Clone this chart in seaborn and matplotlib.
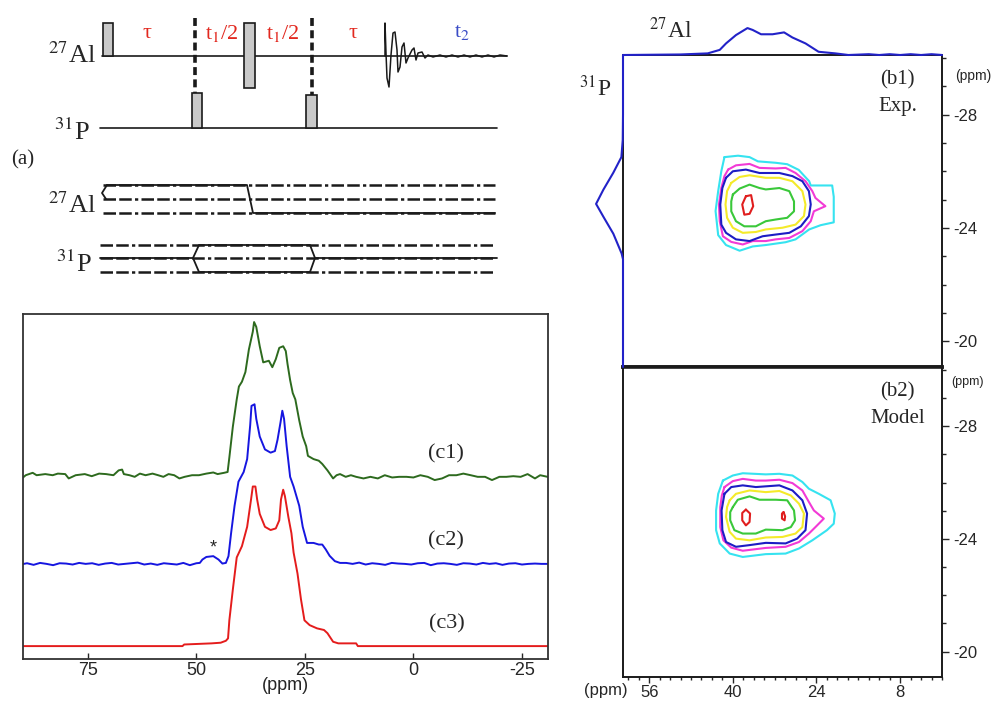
import numpy as np
import pandas as pd
import seaborn as sns
import matplotlib.pyplot as plt
from matplotlib.patches import Rectangle
from matplotlib.ticker import MultipleLocator, FixedLocator

# ---------------- 1D 31P{27Al} spectra (c1 exp, c2, c3), ppm / relative intensity
c1_ppm = [90.5, 89.3, 87.7, 86.8, 84.8, 83.1, 81.9, 80.2, 79.4, 77.8, 75.7, 74.1, 72.4, 70.8, 69.1,
          67.9, 67.1, 66.7, 65.4, 64.2, 63.0, 61.7, 60.1, 58.8, 57.6, 56.4, 55.1, 53.9, 52.7, 51.0,
          49.4, 47.7, 46.1, 45.1, 43.6, 42.8, 42.4, 41.6, 40.7, 40.2, 39.5, 38.7, 37.9, 37.0, 36.7,
          36.2, 35.4, 34.6, 33.3, 32.5, 31.7, 30.9, 30.0, 29.4, 29.0, 28.4, 27.8, 27.2, 26.3, 25.5,
          24.7, 24.3, 23.0, 21.8, 21.0, 19.8, 18.5, 17.7, 16.9, 15.6, 14.4, 13.2, 11.5, 9.9, 8.2,
          6.6, 4.9, 3.3, 1.6, 0.0, -1.6, -3.3, -4.9, -6.6, -8.2, -9.9, -11.5, -13.2, -14.8, -16.5,
          -18.1, -19.8, -21.4, -23.0, -24.7, -26.3, -28.0, -29.2, -30.9]
c1_int = [-0.017, 0.01, 0.025, 0.01, 0.017, 0.01, 0.02, 0.017, -0.01, 0.01, 0.017, 0.004, 0.02, 0.017, 0.01,
          0.04, 0.045, 0.017, 0.01, 0.0, 0.02, 0.01, 0.02, 0.01, 0.0, 0.017, 0.01, -0.01, 0.0, 0.01,
          0.01, 0.02, 0.027, 0.017, 0.025, 0.03, 0.12, 0.31, 0.48, 0.56, 0.59, 0.65, 0.79, 0.90, 0.96,
          0.93, 0.81, 0.71, 0.72, 0.68, 0.73, 0.80, 0.81, 0.78, 0.70, 0.60, 0.52, 0.48, 0.35, 0.25,
          0.19, 0.13, 0.11, 0.10, 0.08, 0.04, -0.01, 0.01, 0.017, 0.0, 0.01, 0.0, -0.01, 0.0, -0.01,
          0.01, -0.004, 0.0, 0.0, -0.004, 0.01, 0.0, -0.02, -0.01, 0.01, 0.01, 0.02, 0.01, 0.0, 0.0,
          -0.02, 0.0, 0.0, 0.004, 0.0, 0.017, -0.01, 0.01, 0.0]

c2_ppm = [90.5, 89.0, 87.5, 86.0, 84.5, 83.0, 81.5, 80.0, 78.5, 77.0, 75.5, 74.0, 72.5, 71.0, 69.5,
          68.0, 66.5, 65.0, 63.5, 62.0, 60.5, 59.0, 57.5, 56.0, 54.5, 53.0, 51.5, 50.0, 49.2, 48.6,
          47.7, 46.1, 44.9, 44.0, 43.2, 42.6, 42.0, 41.2, 40.3, 39.1, 38.3, 37.6, 37.3, 36.6, 36.2,
          35.4, 34.2, 32.9, 31.9, 31.3, 30.6, 30.2, 29.8, 29.2, 28.4, 27.6, 26.3, 25.5, 24.5, 23.0,
          21.8, 21.0, 20.2, 19.3, 18.1, 16.9, 15.5, 14.0, 12.5, 11.0, 9.5, 8.0, 6.5, 5.0, 3.5,
          2.0, 0.5, -1.0, -2.5, -4.0, -5.5, -7.0, -8.5, -10.0, -11.5, -13.0, -14.5, -16.0, -17.5, -19.0,
          -20.5, -22.0, -23.5, -25.0, -26.5, -28.0, -29.5, -31.0]
c2_int = [-0.004, 0.004, -0.006, 0.006, 0.0, -0.008, 0.004, 0.002, -0.004, 0.006, 0.0, 0.004, -0.006, 0.002, 0.006,
          -0.004, 0.0, 0.004, 0.008, -0.004, 0.002, -0.006, 0.004, 0.0, -0.004, 0.006, -0.008, 0.004, 0.006, 0.027,
          0.043, 0.048, 0.027, 0.002, 0.006, 0.048, 0.19, 0.36, 0.51, 0.57, 0.65, 0.86, 0.98, 0.99, 0.90,
          0.79, 0.71, 0.69, 0.70, 0.77, 0.88, 0.95, 0.90, 0.73, 0.54, 0.48, 0.36, 0.23, 0.13, 0.13,
          0.12, 0.12, 0.09, 0.05, 0.017, 0.006, 0.006, 0.0, 0.008, -0.004, 0.004, 0.0, -0.006, 0.006, 0.002,
          0.0, -0.004, 0.004, 0.006, -0.008, 0.002, 0.004, 0.0, -0.006, 0.004, 0.002, -0.004, 0.006, 0.0, 0.004,
          -0.006, 0.002, 0.004, -0.004, 0.0, 0.002, 0.0, 0.0]

c3_ppm = [90.5, 53.2, 52.8, 46.5, 44.4, 43.2, 42.7, 42.4, 41.6, 40.7, 39.5, 38.3, 37.4, 37.0, 36.4,
          36.0, 35.4, 34.2, 32.9, 31.7, 30.9, 30.5, 30.0, 29.6, 28.8, 28.1, 27.6, 26.7, 25.9, 25.1,
          23.9, 22.2, 20.6, 19.8, 18.5, 17.3, 13.2, 12.8, -31.0]
c3_int = [0.0, 0.0, 0.01, 0.017, 0.021, 0.033, 0.048, 0.16, 0.35, 0.55, 0.62, 0.74, 0.91, 0.99, 0.99,
          0.91, 0.82, 0.74, 0.72, 0.73, 0.78, 0.91, 0.97, 0.93, 0.80, 0.70, 0.58, 0.45, 0.29, 0.16,
          0.13, 0.11, 0.10, 0.08, 0.027, 0.017, 0.017, 0.0, 0.0]

spectrum_names = ['(c1)', '(c2)', '(c3)']
spectrum_offsets = [1.13, 0.59, 0.08]
spectrum_colors = ['#2d6a1e', '#1616e0', '#e41c1c']

# ---------------- 2D HMQC projections
al_proj_ppm = [61, 50, 44.8, 42.5, 41.3, 39.4, 37.2, 36.2, 34.6, 32.4, 30.2, 28.6, 26.1, 23.6,
               20.4, 17.9, 14, 12, 10, 8, 6, 4, 2, 0]
al_proj_int = [0.0, 0.02, 0.06, 0.19, 0.43, 0.74, 1.0, 0.93, 0.77, 0.77, 0.84, 0.65, 0.43, 0.12,
               0.06, 0.0, 0.03, 0.0, 0.03, 0.0, 0.03, 0.0, 0.03, 0.0]
p_proj_ppm = [-30.1, -28.0, -27.1, -26.5, -25.95, -25.35, -24.85, -24.4, -23.8, -23.1, -22.9, -21.0, -19.1]
p_proj_int = [0.0, 0.0, 0.01, 0.06, 0.36, 0.73, 1.0, 0.73, 0.36, 0.05, 0.0, 0.0, 0.0]

# ---------------- contour lines (27Al ppm, 31P ppm)
b1_cyan = [(41.6, -26.5), (39.0, -26.55), (36.8, -26.5), (35.2, -26.35), (31.8, -26.3), (29.6, -26.25),
           (27.4, -26.05), (25.4, -25.65), (25.1, -25.5), (21.0, -25.5), (20.7, -25.1), (20.7, -24.2),
           (23.2, -24.1), (25.4, -23.95), (28.0, -23.6), (29.9, -23.5), (33.7, -23.4), (36.2, -23.35),
           (38.7, -23.2), (41.3, -23.4), (42.8, -23.75), (43.3, -24.6), (42.8, -25.3), (42.2, -26.0)]
b1_magenta = [(40.9, -26.06), (39.4, -26.21), (36.8, -26.26), (34.9, -26.12), (31.8, -26.1), (29.9, -26.12),
              (28.0, -25.94), (26.1, -25.65), (24.8, -25.3), (24.2, -25.06), (22.3, -24.77), (24.5, -24.59),
              (25.1, -24.24), (26.7, -23.89), (29.2, -23.65), (31.8, -23.6), (33.7, -23.54), (36.2, -23.54),
              (38.1, -23.42), (40.3, -23.51), (41.9, -23.71), (42.5, -24.24), (42.65, -24.83), (42.2, -25.41),
              (41.6, -25.83)]
b1_blue = [(41.3, -25.77), (40.0, -26.0), (37.5, -26.06), (34.9, -25.94), (31.1, -25.94), (28.6, -25.83),
           (26.7, -25.65), (25.45, -25.3), (25.1, -24.83), (25.45, -24.42), (27.0, -24.06), (29.2, -23.83),
           (31.8, -23.77), (34.3, -23.71), (36.8, -23.54), (39.4, -23.6), (41.3, -23.83), (42.2, -24.12),
           (42.4, -24.83), (42.0, -25.41)]
b1_yellow = [(40.3, -25.59), (38.7, -25.8), (36.8, -25.86), (33.7, -25.77), (31.1, -25.77), (28.6, -25.65),
             (26.7, -25.3), (26.1, -24.83), (26.4, -24.42), (28.0, -24.12), (30.5, -24.01), (33.7, -23.95),
             (35.6, -23.86), (38.1, -23.83), (40.0, -24.01), (41.1, -24.36), (41.4, -24.83), (41.1, -25.3)]
b1_green = [(40.0, -25.18), (38.7, -25.39), (36.8, -25.53), (34.9, -25.41), (33.7, -25.36), (31.1, -25.41),
            (29.2, -25.3), (28.3, -24.94), (28.3, -24.59), (29.6, -24.36), (31.8, -24.30), (33.7, -24.24),
            (35.6, -24.06), (37.8, -24.06), (39.4, -24.24), (40.3, -24.59), (40.3, -24.94)]
b1_red = [(37.5, -25.12), (36.5, -25.16), (36.1, -24.77), (36.8, -24.50), (37.8, -24.47), (38.2, -24.83)]

b2_cyan = [(41.9, -26.07), (40.0, -26.25), (38.1, -26.33), (33.7, -26.29), (31.1, -26.31), (28.6, -26.25),
           (26.7, -26.02), (25.45, -25.78), (23.55, -25.6), (21.3, -25.37), (20.5, -24.9), (20.7, -24.54),
           (22.0, -24.31), (24.8, -23.95), (27.35, -23.66), (29.9, -23.48), (33.7, -23.46), (38.1, -23.36),
           (40.6, -23.48), (42.5, -23.84), (43.2, -24.31), (43.2, -25.01), (42.8, -25.6)]
b2_magenta = [(41.6, -25.84), (40.0, -26.05), (38.1, -26.13), (35.6, -26.07), (33.7, -26.07), (31.1, -26.1),
              (28.6, -25.98), (26.7, -25.72), (25.45, -25.31), (24.5, -25.01), (22.6, -24.72), (24.2, -24.42),
              (25.45, -24.19), (27.35, -23.89), (29.9, -23.72), (33.7, -23.68), (38.1, -23.58), (40.3, -23.69),
              (41.8, -23.95), (42.4, -24.42), (42.4, -25.13), (42.1, -25.54)]
b2_blue = [(41.6, -25.6), (40.3, -25.84), (38.1, -25.9), (35.6, -25.84), (31.1, -25.9), (28.6, -25.72),
           (26.7, -25.37), (25.8, -24.9), (26.1, -24.31), (27.7, -24.01), (29.9, -23.84), (33.7, -23.86),
           (36.8, -23.78), (39.4, -23.72), (41.3, -23.89), (42.0, -24.31), (42.15, -25.01)]
b2_yellow = [(40.6, -25.37), (39.4, -25.6), (36.8, -25.72), (33.7, -25.66), (31.1, -25.7), (28.9, -25.54),
             (27.35, -25.25), (26.4, -24.9), (26.7, -24.42), (28.0, -24.19), (30.5, -24.07), (33.7, -24.05),
             (36.8, -23.95), (39.4, -24.01), (40.6, -24.25), (41.3, -24.78), (41.1, -25.13)]
b2_green = [(40.0, -25.13), (39.05, -25.39), (36.8, -25.51), (34.9, -25.39), (31.8, -25.39), (29.6, -25.37),
            (28.3, -25.01), (28.1, -24.66), (28.9, -24.42), (30.5, -24.31), (33.7, -24.33), (35.6, -24.19),
            (38.1, -24.19), (39.7, -24.31), (40.5, -24.66), (40.5, -24.95)]
b2_red_a = [(37.5, -25.04), (36.7, -24.9), (36.8, -24.6), (37.5, -24.48), (38.2, -24.66), (38.2, -24.92)]
b2_red_b = [(30.3, -24.95), (30.0, -24.8), (30.1, -24.66), (30.6, -24.72), (30.6, -24.9)]

contour_colors = {'cyan': '#36e3f0', 'magenta': '#f23ad6', 'blue': '#1c1cc4',
                  'yellow': '#f4ea2a', 'green': '#3ac83a', 'red': '#e01e1e'}

# ---------------- pulse sequence schematic (time units of the drawing)
al_pulse_t = [103, 244]
al_pulse_w = [10, 11]
al_pulse_up = [33, 33]
al_pulse_down = [0, 32]
p_pulse_t = [192, 306]
p_pulse_w = [10, 11]
p_pulse_h = [35, 33]
delay_marks_t = [195, 312]
delay_labels = ['τ', r't$_1$/2', r't$_1$/2', 'τ', r't$_2$']
delay_label_t = [147, 222, 283, 353, 462]
fid_t = [385, 385, 386, 387, 389, 391, 393, 395, 397, 398, 400, 402, 404, 406, 408, 412, 414, 416, 418,
         422, 425, 428, 433, 440, 446, 452, 458, 464, 470, 476, 482, 488, 494, 500, 507]
fid_amp = [0, 33, 3, -22, -31, 1, 23, 24, 6, -16, -11, 9, 13, -7, -2, 6, 8, -4, 3, 4, -2, 1, -1, 1,
           -1, 1, -1, 1, -1, 1, -1, 1, -1, 1, 0]

W, H = 999, 701
sns.set_theme(style='white')
plt.rcParams['font.family'] = ['Liberation Sans', 'DejaVu Sans']
plt.rcParams['mathtext.fontset'] = 'stix'
plt.rcParams['axes.unicode_minus'] = False
SERIF = ['Liberation Serif', 'DejaVu Serif']

fig = plt.figure(figsize=(W / 100, H / 100), dpi=100)


def px_axes(x0, y0, x1, y1):
    return fig.add_axes([x0 / W, 1 - y1 / H, (x1 - x0) / W, (y1 - y0) / H])


# ================= (a) pulse sequence
ax_a = px_axes(0, 0, 560, 300)
ax_a.set_xlim(0, 560)
ax_a.set_ylim(300, 0)
ax_a.axis('off')
al_y, p_y = 56, 128
ax_a.plot([102, 507], [al_y, al_y], color='k', lw=1.2)
ax_a.plot([100, 497], [p_y, p_y], color='k', lw=1.2)
for t, w, up, dn in zip(al_pulse_t, al_pulse_w, al_pulse_up, al_pulse_down):
    ax_a.add_patch(Rectangle((t, al_y - up), w, up + dn, facecolor='#c9c9c9', edgecolor='k', lw=1.2, zorder=3))
for t, w, h in zip(p_pulse_t, p_pulse_w, p_pulse_h):
    ax_a.add_patch(Rectangle((t, p_y - h), w, h, facecolor='#c9c9c9', edgecolor='k', lw=1.2, zorder=3))
for t, h in zip(delay_marks_t, p_pulse_h):
    ax_a.plot([t, t], [18, p_y - h], color='k', lw=2.6, ls=(0, (2.2, 1.2)))
ax_a.plot(fid_t, al_y - np.array(fid_amp), color='k', lw=1.1, zorder=4)
for lab, t in zip(delay_labels, delay_label_t):
    col = '#3a4cc6' if 't$_2' in lab else '#e2281f'
    ax_a.text(t, 33, lab, color=col, fontsize=16, family=SERIF, ha='center', va='center')
ax_a.text(96, 63, r'$^{27}$Al', fontsize=19, family=SERIF, ha='right', va='baseline')
ax_a.text(90, 140, r'$^{31}$P', fontsize=19, family=SERIF, ha='right', va='baseline')

# coherence transfer pathways
dd = (0, (5, 1.3, 5, 1.3, 1.3, 1.3))
al_lv = [185, 199, 213]
p_lv = [245, 258, 272]
for lv in al_lv:
    ax_a.plot([103, 495], [lv, lv], color='k', lw=1.8, ls=dd)
for lv in p_lv:
    ax_a.plot([100, 495], [lv, lv], color='k', lw=1.8, ls=dd)
ax_a.plot([107, 247, 253, 495], [al_lv[0], al_lv[0], al_lv[2], al_lv[2]], color='k', lw=1.3)
ax_a.plot([107, 102, 106], [al_lv[0], al_lv[1] - 6, al_lv[1]], color='k', lw=1.3)
ax_a.plot([100, 193, 199, 310, 315, 497], [p_lv[1], p_lv[1], p_lv[0], p_lv[0], p_lv[1], p_lv[1]], color='k', lw=1.3)
ax_a.plot([193, 199, 310, 315], [p_lv[1], p_lv[2], p_lv[2], p_lv[1]], color='k', lw=1.3)
ax_a.text(96, 213, r'$^{27}$Al', fontsize=19, family=SERIF, ha='right', va='baseline')
ax_a.text(92, 272, r'$^{31}$P', fontsize=19, family=SERIF, ha='right', va='baseline')
ax_a.text(23, 160, '(a)', fontsize=15, family=SERIF, ha='center', va='center')

# ================= (c) 1D spectra
ax_c = px_axes(22.7, 314, 548, 659)
for ppm, inten, off, col in zip([c1_ppm, c2_ppm, c3_ppm], [c1_int, c2_int, c3_int],
                                spectrum_offsets, spectrum_colors):
    df = pd.DataFrame({'ppm': ppm, 'y': np.array(inten) + off})
    sns.lineplot(data=df, x='ppm', y='y', sort=False, estimator=None, color=col, lw=1.4, ax=ax_c)
for name, off in zip(spectrum_names, spectrum_offsets):
    ax_c.text(-7.6, off + 0.14, name, fontsize=16, family=SERIF, ha='center', va='center')
ax_c.text(46.1, spectrum_offsets[1] + 0.1, '*', fontsize=13, ha='center', va='center')
ax_c.set_xlim(90, -31)
ax_c.set_ylim(0, 2.14)
ax_c.set_yticks([])
ax_c.set_xticks([75, 50, 25, 0, -25])
ax_c.tick_params(axis='x', bottom=True, direction='in', length=4, width=1, labelsize=13, pad=2)
ax_c.set_xlabel('(ppm)', fontsize=13, labelpad=-1)
ax_c.set_ylabel('')
for s in ax_c.spines.values():
    s.set_color('#333333')
    s.set_linewidth(1.3)

# ================= (b1)/(b2) 2D maps
b1_sets = {'cyan': [b1_cyan], 'magenta': [b1_magenta], 'blue': [b1_blue],
           'yellow': [b1_yellow], 'green': [b1_green], 'red': [b1_red]}
b2_sets = {'cyan': [b2_cyan], 'magenta': [b2_magenta], 'blue': [b2_blue],
           'yellow': [b2_yellow], 'green': [b2_green], 'red': [b2_red_a, b2_red_b]}

ax_b1 = px_axes(623, 55, 942, 367)
ax_b2 = px_axes(623, 367, 942, 677)
for ax, sets in ((ax_b1, b1_sets), (ax_b2, b2_sets)):
    rows = []
    piece = 0
    for lev, polys in sets.items():
        for poly in polys:
            for x, y in poly + [poly[0]]:
                rows.append({'x': x, 'y': y, 'level': lev, 'piece': piece})
            piece += 1
    cdf = pd.DataFrame(rows)
    sns.lineplot(data=cdf, x='x', y='y', hue='level', units='piece', estimator=None, sort=False,
                 palette=contour_colors, legend=False, lw=1.5, ax=ax)
    ax.set_xlim(61, 0)
    ax.set_ylim(-19.1, -30.1)
    ax.set_xlabel('')
    ax.set_ylabel('')
    ax.yaxis.tick_right()
    ax.yaxis.set_major_locator(FixedLocator([-28, -24, -20]))
    ax.yaxis.set_minor_locator(MultipleLocator(1))
    ax.tick_params(axis='y', which='major', right=True, direction='out', length=5, width=1, labelsize=12, pad=3)
    ax.tick_params(axis='y', which='minor', right=True, direction='out', length=3, width=1)
    for s in ax.spines.values():
        s.set_color('k')
        s.set_linewidth(1.4)

ax_b1.set_xticks([])
ax_b1.spines['bottom'].set_linewidth(2.6)
ax_b2.spines['top'].set_linewidth(2.6)
ax_b2.xaxis.set_major_locator(FixedLocator([56, 40, 24, 8]))
ax_b2.xaxis.set_minor_locator(MultipleLocator(2))
ax_b2.tick_params(axis='x', which='major', bottom=True, direction='out', length=4, width=1, labelsize=12, pad=2)
ax_b2.tick_params(axis='x', which='minor', bottom=True, direction='out', length=2.5, width=1)

ax_b1.text(0.86, 0.92, '(b1)', transform=ax_b1.transAxes, fontsize=15, family=SERIF, ha='center', va='center')
ax_b1.text(0.86, 0.835, 'Exp.', transform=ax_b1.transAxes, fontsize=15, family=SERIF, ha='center', va='center')
ax_b2.text(0.86, 0.92, '(b2)', transform=ax_b2.transAxes, fontsize=15, family=SERIF, ha='center', va='center')
ax_b2.text(0.86, 0.835, 'Model', transform=ax_b2.transAxes, fontsize=15, family=SERIF, ha='center', va='center')
fig.text(973 / W, 1 - 76 / H, '(ppm)', fontsize=10, ha='center', va='center')
fig.text(968 / W, 1 - 382 / H, '(ppm)', fontsize=9, ha='center', va='center')
fig.text(606 / W, 1 - 690 / H, '(ppm)', fontsize=12, ha='center', va='center')

# projections
proj_col = '#2222c8'
ax_top = px_axes(623, 20, 942, 55)
sns.lineplot(x=al_proj_ppm, y=al_proj_int, sort=False, estimator=None, color=proj_col, lw=1.5,
             ax=ax_top, clip_on=False)
ax_top.set_xlim(61, 0)
ax_top.set_ylim(0, 1.3)
ax_top.axis('off')

ax_left = px_axes(588, 55, 623, 367)
sns.lineplot(x=p_proj_int, y=p_proj_ppm, sort=False, estimator=None, orient='y', color=proj_col, lw=1.5,
             ax=ax_left, clip_on=False)
ax_left.set_xlim(1.3, 0)
ax_left.set_ylim(-19.1, -30.1)
ax_left.axis('off')

fig.text(671 / W, 1 - 30 / H, r'$^{27}$Al', fontsize=17, family=SERIF, ha='center', va='center')
fig.text(595 / W, 1 - 88 / H, r'$^{31}$P', fontsize=17, family=SERIF, ha='center', va='center')

fig.savefig('out.png', dpi=100)
